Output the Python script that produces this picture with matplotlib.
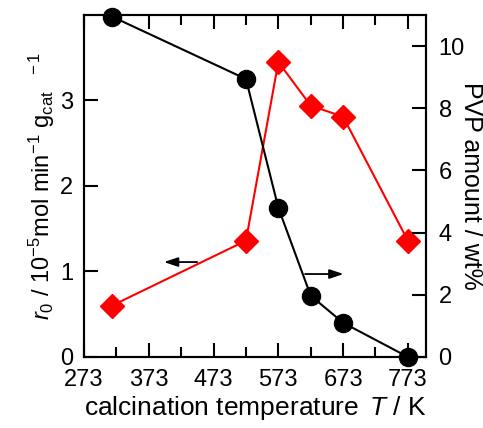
import matplotlib
matplotlib.use("Agg")
import matplotlib.pyplot as plt

plt.rcParams['font.family'] = ['Liberation Sans', 'DejaVu Sans']
plt.rcParams['mathtext.fontset'] = 'custom'
plt.rcParams['mathtext.rm'] = 'Liberation Sans'
plt.rcParams['mathtext.it'] = 'Liberation Sans:italic'

# calcination temperature (K)
temperature = [316, 523, 573, 623, 673, 773]
# initial rate r0 (10^-5 mol min^-1 g_cat^-1), left axis
rate = [0.60, 1.36, 3.45, 2.94, 2.81, 1.36]
# PVP amount (wt%), right axis
pvp = [10.95, 8.94, 4.8, 1.97, 1.1, 0.0]

x_ticks = [273, 373, 473, 573, 673, 773]

fig, ax = plt.subplots(figsize=(4.83, 4.28), dpi=100)
fig.subplots_adjust(left=0.174, right=0.882, top=0.965, bottom=0.166)
ax2 = ax.twinx()

ax.plot(temperature, rate, color='red', marker='D', markersize=12,
        lw=1.5, zorder=3)
ax2.plot(temperature, pvp, color='black', marker='o', markersize=13,
         lw=1.5, clip_on=False, zorder=3)

ax.set_xlim(273, 801)
ax.set_ylim(0, 4.0)
ax2.set_ylim(0, 11)
ax.set_xticks(x_ticks)
ax.set_xticks(range(323, 801, 100), minor=True)
ax.set_yticks([0, 1, 2, 3])
ax2.set_yticks([0, 2, 4, 6, 8, 10])

for a in (ax, ax2):
    for s in a.spines.values():
        s.set_linewidth(1.5)
ax.tick_params(axis='x', which='both', direction='in', top=True,
               labelsize=17, width=1.5, pad=9)
ax.tick_params(axis='x', which='major', length=10)
ax.tick_params(axis='x', which='minor', length=7)
ax.tick_params(axis='y', direction='in', length=10, width=1.5,
               labelsize=17, pad=8)
ax2.tick_params(axis='y', direction='in', length=10, width=1.5,
                labelsize=17, pad=9)

ax.set_xlabel('calcination temperature $\\,\\mathit{T}$ / K', fontsize=19,
              labelpad=2)
ax.set_ylabel('$\\mathit{r}_0$ / 10$^{-5}$mol min$^{-1}$ g$_{\\rm cat}$$^{\\ \\ \\ -1}$',
              fontsize=17, labelpad=2)
ax2.set_ylabel('PVP amount / wt%', fontsize=18, rotation=270, va='center')
ax2.yaxis.set_label_coords(1.131, 0.5)

ax.annotate('', xy=(392, 1.11), xytext=(452, 1.11),
            arrowprops=dict(arrowstyle='-|>,head_length=0.6,head_width=0.2',
                            color='black', lw=1.3, mutation_scale=14))
ax.annotate('', xy=(678, 0.97), xytext=(610, 0.97),
            arrowprops=dict(arrowstyle='-|>,head_length=0.6,head_width=0.2',
                            color='black', lw=1.3, mutation_scale=14))

fig.savefig('out.png', dpi=100)
